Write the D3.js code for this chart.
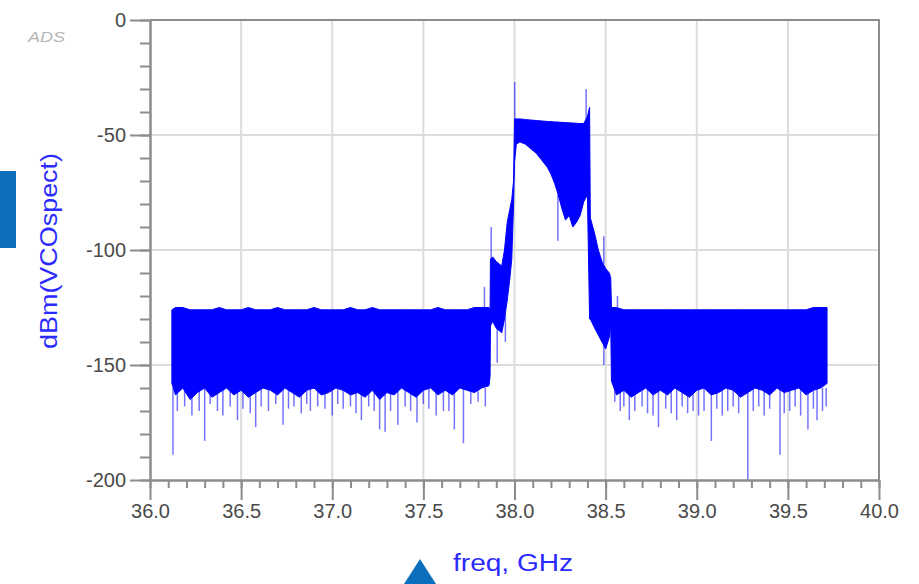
<!DOCTYPE html>
<html>
<head>
<meta charset="utf-8">
<style>
body { margin: 0; background: #fff; }
#spectrum-chart { width: 919px; height: 584px; }
text { font-family: "Liberation Sans", Arial, sans-serif; }
</style>
<script src="https://d3js.org/d3.v7.min.js"></script>
</head>
<body>
<div id="spectrum-chart"></div>
<script>
// tick labels
var freqTicks = [36.0, 36.5, 37.0, 37.5, 38.0, 38.5, 39.0, 39.5, 40.0];
var dbmTicks = [0, -50, -100, -150, -200];

// envelope of the trace: [freq GHz, top dBm, bottom dBm]
var leftFloor = [
    [36.12, -126, -158], [36.14, -125, -163], [36.18, -125, -160], [36.22, -126, -165],
    [36.26, -126, -162], [36.30, -126, -160], [36.34, -126, -164], [36.38, -125, -162],
    [36.42, -126, -160], [36.46, -126, -163], [36.50, -126, -161], [36.54, -125, -164],
    [36.58, -126, -162], [36.62, -126, -160], [36.66, -126, -161], [36.70, -125, -163],
    [36.74, -126, -160], [36.78, -126, -162], [36.82, -126, -164], [36.86, -126, -161],
    [36.90, -125, -160], [36.94, -126, -163], [36.98, -126, -162], [37.02, -126, -160],
    [37.06, -126, -161], [37.10, -125, -163], [37.14, -126, -162], [37.18, -126, -164],
    [37.22, -125, -161], [37.26, -126, -165], [37.30, -126, -162], [37.34, -126, -163],
    [37.38, -126, -160], [37.42, -126, -162], [37.46, -126, -164], [37.50, -126, -161],
    [37.54, -126, -160], [37.58, -125, -163], [37.62, -126, -161], [37.66, -126, -163],
    [37.70, -126, -160], [37.74, -126, -161], [37.78, -125, -162], [37.82, -125, -160],
    [37.86, -125, -159], [37.866, -126, -155]
];

var carrier = [
    [37.868, -104, -133], [37.88, -103, -131], [37.90, -105, -134], [37.93, -107, -136],
    [37.945, -100, -130], [37.96, -88, -122], [37.975, -82, -112], [37.985, -78, -104],
    [37.995, -70, -80], [38.000, -43, -62], [38.010, -43, -54], [38.030, -43, -53],
    [38.060, -43.3, -54], [38.090, -43.5, -56], [38.120, -43.7, -58], [38.150, -43.9, -61],
    [38.180, -44.1, -64], [38.200, -44.2, -67], [38.220, -44.3, -71], [38.240, -44.4, -76],
    [38.260, -44.5, -82], [38.280, -44.6, -87], [38.300, -44.7, -85], [38.320, -44.8, -90],
    [38.340, -44.9, -88], [38.360, -45, -85], [38.380, -45, -79], [38.400, -42, -76],
    [38.412, -38, -130], [38.416, -86, -130], [38.440, -93, -134], [38.460, -100, -137],
    [38.480, -105, -140], [38.500, -108, -143], [38.520, -110, -138], [38.528, -112, -133]
];

var rightFloor = [
    [38.532, -125, -157], [38.56, -125, -163], [38.60, -126, -161], [38.64, -126, -164],
    [38.68, -126, -162], [38.72, -126, -160], [38.76, -126, -163], [38.80, -126, -161],
    [38.84, -126, -163], [38.88, -126, -160], [38.92, -126, -162], [38.96, -126, -164],
    [39.00, -126, -161], [39.04, -126, -160], [39.08, -126, -163], [39.12, -126, -162],
    [39.16, -126, -160], [39.20, -126, -161], [39.24, -126, -164], [39.28, -126, -162],
    [39.32, -126, -160], [39.36, -126, -161], [39.40, -126, -163], [39.44, -126, -160],
    [39.48, -126, -162], [39.52, -126, -161], [39.56, -126, -160], [39.60, -126, -163],
    [39.64, -125, -161], [39.68, -125, -160], [39.715, -125, -158]
];

// single spikes sticking out of the envelope: [freq GHz, from dBm, to dBm]
var carrierSpikes = [
    [37.835, -125, -116], [37.872, -104, -90], [38.001, -43, -27], [38.393, -45, -30],
    [38.490, -106, -94], [38.565, -125, -120], [37.905, -134, -149], [38.238, -76, -96],
    [38.490, -140, -150], [37.950, -128, -140]
];

var leftFloorSpikes = [
    [36.126, -160, -189], [36.15, -160, -170], [36.19, -160, -168], [36.23, -160, -172],
    [36.27, -160, -170], [36.30, -160, -183], [36.33, -160, -167], [36.37, -160, -170],
    [36.40, -160, -172], [36.44, -160, -168], [36.48, -160, -174], [36.51, -160, -169],
    [36.55, -160, -171], [36.58, -160, -177], [36.61, -160, -168], [36.65, -160, -170],
    [36.69, -160, -167], [36.73, -160, -176], [36.76, -160, -169], [36.79, -160, -168],
    [36.83, -160, -171], [36.86, -160, -167], [36.88, -160, -170], [36.92, -160, -168],
    [36.96, -160, -169], [37.00, -160, -172], [37.03, -160, -167], [37.06, -160, -169],
    [37.10, -160, -168], [37.13, -160, -171], [37.16, -160, -174], [37.20, -160, -168],
    [37.23, -160, -170], [37.26, -160, -178], [37.29, -160, -179], [37.32, -160, -170],
    [37.36, -160, -176], [37.40, -160, -168], [37.43, -160, -170], [37.465, -160, -175],
    [37.50, -160, -167], [37.53, -160, -169], [37.57, -160, -172], [37.61, -160, -170],
    [37.64, -160, -170], [37.67, -160, -178], [37.72, -160, -184], [37.76, -160, -167],
    [37.80, -160, -166], [37.84, -160, -168]
];

var rightFloorSpikes = [
    [38.55, -160, -166], [38.58, -160, -170], [38.60, -160, -168], [38.63, -160, -174],
    [38.66, -160, -170], [38.70, -160, -168], [38.73, -160, -171], [38.76, -160, -172],
    [38.79, -160, -177], [38.83, -160, -169], [38.86, -160, -171], [38.89, -160, -174],
    [38.92, -160, -168], [38.95, -160, -171], [38.98, -160, -170], [39.01, -160, -172],
    [39.04, -160, -170], [39.08, -160, -183], [39.11, -160, -169], [39.14, -160, -172],
    [39.17, -160, -170], [39.20, -160, -168], [39.23, -160, -171], [39.28, -160, -200],
    [39.31, -160, -170], [39.34, -160, -168], [39.37, -160, -172], [39.40, -160, -169],
    [39.457, -160, -189], [39.48, -160, -171], [39.51, -160, -170], [39.54, -160, -168],
    [39.57, -160, -172], [39.61, -160, -178], [39.64, -160, -169], [39.66, -160, -174],
    [39.69, -160, -170], [39.71, -160, -168]
];

var traceColor = "#0000ff";
var frameColor = "#8c8c8c";
var gridColor = "#dcdcdc";
var tickTextColor = "#4a4a4a";

function SpectrumChart() {
    var self = this;
    self.init();
}

SpectrumChart.prototype.init = function () {
    var self = this;
    self.margin = {left: 150, right: 40, top: 20, bottom: 104};
    self.div = d3.select("#spectrum-chart");
    self.width = 919;
    self.height = 584;
    self.svg = self.div.append("svg")
        .attr("width", self.width)
        .attr("height", self.height);

    self.xScale = d3.scaleLinear()
        .domain([36, 40])
        .range([self.margin.left, self.width - self.margin.right]);
    self.yScale = d3.scaleLinear()
        .domain([-200, 0])
        .range([self.height - self.margin.bottom, self.margin.top]);
};

SpectrumChart.prototype.drawFrame = function () {
    var self = this;
    var x = self.xScale, y = self.yScale;
    var x0 = x.range()[0], x1 = x.range()[1];
    var y0 = y.range()[0], y1 = y.range()[1];

    // grid
    self.svg.append("g").selectAll("line.vgrid")
        .data(freqTicks.slice(1, -1))
        .enter().append("line")
        .attr("x1", function (d) { return x(d); })
        .attr("x2", function (d) { return x(d); })
        .attr("y1", y1).attr("y2", y0)
        .attr("stroke", gridColor).attr("stroke-width", 2);

    self.svg.append("g").selectAll("line.hgrid")
        .data(dbmTicks.slice(1, -1))
        .enter().append("line")
        .attr("x1", x0).attr("x2", x1)
        .attr("y1", function (d) { return y(d); })
        .attr("y2", function (d) { return y(d); })
        .attr("stroke", gridColor).attr("stroke-width", 2);

    // top and right border
    self.svg.append("path")
        .attr("d", "M" + x0 + "," + y1 + "H" + x1 + "V" + y0)
        .attr("fill", "none")
        .attr("stroke", frameColor)
        .attr("stroke-width", 2);
};

SpectrumChart.prototype.drawTrace = function () {
    var self = this;
    var x = self.xScale, y = self.yScale;

    var spikes = carrierSpikes.concat(leftFloorSpikes, rightFloorSpikes);
    self.svg.append("g").selectAll("line")
        .data(spikes)
        .enter().append("line")
        .attr("x1", function (d) { return x(d[0]); })
        .attr("x2", function (d) { return x(d[0]); })
        .attr("y1", function (d) { return y(d[1]); })
        .attr("y2", function (d) { return y(d[2]); })
        .attr("stroke", traceColor)
        .attr("stroke-opacity", 0.55)
        .attr("stroke-width", 1.5);

    var area = d3.area()
        .x(function (d) { return x(d[0]); })
        .y0(function (d) { return y(d[2]); })
        .y1(function (d) { return y(d[1]); });

    self.svg.append("path")
        .datum(leftFloor.concat(carrier, rightFloor))
        .attr("d", area)
        .attr("fill", traceColor)
        .attr("stroke", traceColor)
        .attr("stroke-width", 1);
};

SpectrumChart.prototype.drawAxes = function () {
    var self = this;
    var x = self.xScale, y = self.yScale;
    var bottom = y.range()[0], left = x.range()[0];

    var xMinor = self.svg.append("g")
        .attr("transform", "translate(0," + bottom + ")")
        .call(d3.axisBottom(x).tickValues(d3.range(360, 401).map(function (d) { return d / 10; }))
            .tickSize(8).tickSizeOuter(0).tickFormat(""));
    var xMajor = self.svg.append("g")
        .attr("transform", "translate(0," + bottom + ")")
        .call(d3.axisBottom(x).tickValues(freqTicks)
            .tickSize(20).tickSizeOuter(0).tickPadding(4)
            .tickFormat(d3.format(".1f")));

    var yMinor = self.svg.append("g")
        .attr("transform", "translate(" + left + ",0)")
        .call(d3.axisLeft(y).tickValues(d3.range(-200, 1, 10))
            .tickSize(10).tickSizeOuter(0).tickFormat(""));
    var yMajor = self.svg.append("g")
        .attr("transform", "translate(" + left + ",0)")
        .call(d3.axisLeft(y).tickValues(dbmTicks)
            .tickSize(20).tickSizeOuter(0).tickPadding(4)
            .tickFormat(function (d) { return String(d); }));

    [xMinor, xMajor, yMinor, yMajor].forEach(function (g) {
        g.selectAll("path, line")
            .attr("stroke", frameColor)
            .attr("stroke-width", 2);
        g.selectAll("text")
            .attr("fill", tickTextColor)
            .style("font-size", "20px")
            .style("font-family", "'Liberation Sans', Arial, sans-serif");
    });
};

SpectrumChart.prototype.drawLabels = function () {
    var self = this;

    self.svg.append("text")
        .attr("x", 28).attr("y", 42)
        .attr("textLength", 37)
        .attr("lengthAdjust", "spacingAndGlyphs")
        .attr("fill", "#b4b4b4")
        .style("font-size", "15px")
        .style("font-style", "italic")
        .text("ADS");

    self.svg.append("text")
        .attr("transform", "translate(57,251) rotate(-90)")
        .attr("text-anchor", "middle")
        .attr("textLength", 196)
        .attr("lengthAdjust", "spacingAndGlyphs")
        .attr("fill", "#2b2bff")
        .style("font-size", "24px")
        .text("dBm(VCOspect)");

    self.svg.append("text")
        .attr("x", 453).attr("y", 571)
        .attr("textLength", 120)
        .attr("lengthAdjust", "spacingAndGlyphs")
        .attr("fill", "#2b2bff")
        .style("font-size", "23px")
        .text("freq, GHz");

    // bits of the surrounding window
    self.svg.append("rect")
        .attr("x", 0).attr("y", 171)
        .attr("width", 16).attr("height", 77)
        .attr("fill", "#0b6fbd");
    self.svg.append("path")
        .attr("d", "M404,584L420,559L436,584Z")
        .attr("fill", "#0b6fbd");
};

var chart = new SpectrumChart();
chart.drawFrame();
chart.drawTrace();
chart.drawAxes();
chart.drawLabels();
</script>
</body>
</html>
